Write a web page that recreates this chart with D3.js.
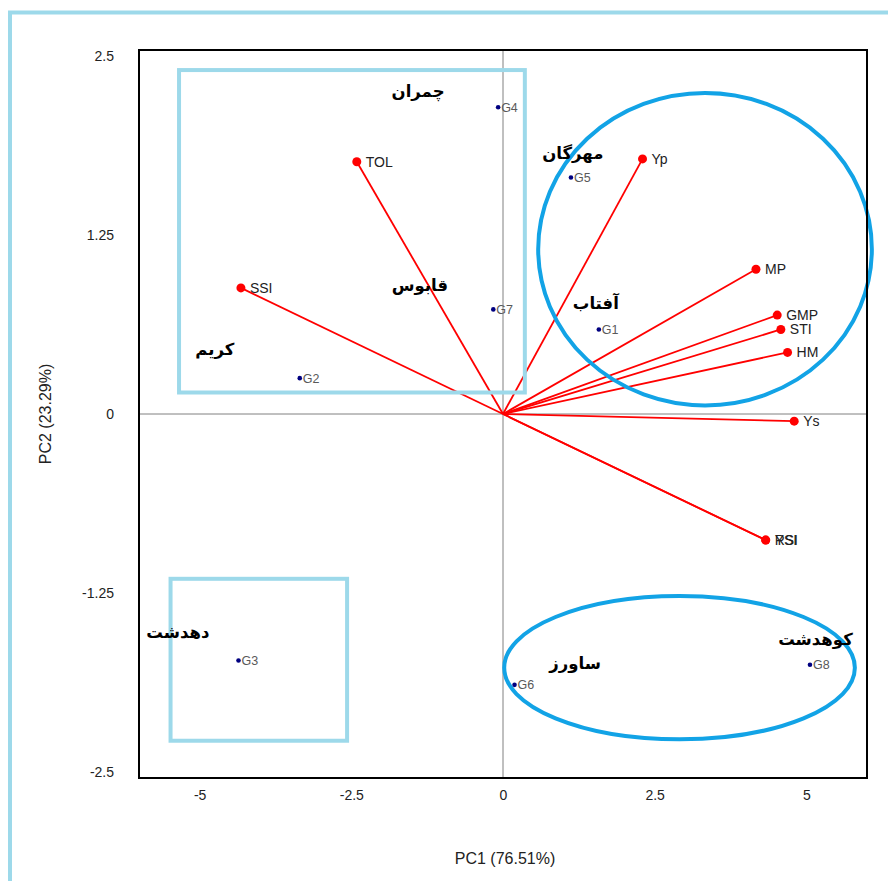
<!DOCTYPE html>
<html>
<head>
<meta charset="utf-8">
<script src="https://cdn.jsdelivr.net/npm/d3@7"></script>
<style>
  body { margin: 0; background: #fff; }
  text { font-family: "Liberation Sans", Arial, sans-serif; }
  .fa { font-family: "DejaVu Sans", sans-serif; font-weight: bold; }
</style>
</head>
<body>
<div id="chart"></div>
<script>
// genotype scores
const genotypes = ["G1", "G2", "G3", "G4", "G5", "G6", "G7", "G8"];
const genoPC1 = [1.58, -3.35, -4.36, -0.08, 1.12, 0.19, -0.16, 5.06];
const genoPC2 = [0.59, 0.25, -1.72, 2.14, 1.65, -1.89, 0.73, -1.75];

// index loadings
const indices = ["TOL", "Yp", "MP", "GMP", "STI", "HM", "Ys", "SSI", "YSI", "RSI"];
const indPC1 = [-2.41, 2.30, 4.17, 4.52, 4.58, 4.69, 4.80, -4.32, 4.33, 4.33];
const indPC2 = [1.76, 1.78, 1.01, 0.69, 0.59, 0.43, -0.05, 0.88, -0.88, -0.88];

// cultivar names written on the plot
const cultivars = ["چمران", "مهرگان", "قابوس", "آفتاب", "کریم", "دهدشت", "ساورز", "کوهدشت"];
const cultPC1 = [-1.40, 1.15, -1.37, 1.53, -4.75, -5.36, 1.19, 5.15];
const cultPC2 = [2.25, 1.82, 0.90, 0.77, 0.45, -1.52, -1.74, -1.57];

// groupings (in axis units)
const boxes = [
  { x0: -5.34, x1: 0.36, y0: 2.40, y1: 0.15 },
  { x0: -5.48, x1: -2.57, y0: -1.15, y1: -2.28 }
];
const rings = [
  { cx: 3.33, cy: 1.15, rx: 2.75, ry: 1.09 },
  { cx: 2.91, cy: -1.77, rx: 2.89, ry: 0.50 }
];

const xTicks = [-5, -2.5, 0, 2.5, 5];
const yTicks = [-2.5, -1.25, 0, 1.25, 2.5];

const width = 888;
const height = 881;
const plot = { left: 139, right: 867, top: 50, bottom: 778 };

const svg = d3.select("#chart").append("svg")
    .attr("width", width)
    .attr("height", height);

const x = d3.scaleLinear().domain([-6, 6]).range([plot.left, plot.right]);
const y = d3.scaleLinear().domain([-2.54, 2.54]).range([plot.bottom, plot.top]);

// outer frame of the figure
svg.append("path")
    .attr("d", "M10," + (height + 5) + "V12.5H" + (width + 5))
    .attr("fill", "none")
    .attr("stroke", "#9dd9ea")
    .attr("stroke-width", 4);

// zero lines
svg.append("line")
    .attr("x1", x(0)).attr("x2", x(0))
    .attr("y1", plot.top).attr("y2", plot.bottom)
    .attr("stroke", "#808080").attr("stroke-width", 1);
svg.append("line")
    .attr("x1", plot.left).attr("x2", plot.right)
    .attr("y1", y(0)).attr("y2", y(0))
    .attr("stroke", "#808080").attr("stroke-width", 1);

// tick labels (plain hyphen minus like the original)
const xAxis = d3.axisBottom(x).tickValues(xTicks).tickSize(0).tickPadding(12)
    .tickFormat(d => String(d));
svg.append("g")
    .attr("transform", "translate(0," + plot.bottom + ")")
    .call(xAxis)
    .call(g => g.select(".domain").remove())
    .selectAll("text")
    .attr("font-size", 14)
    .attr("fill", "#222")
    .style("font-family", "Liberation Sans, Arial, sans-serif");

const yAxis = d3.axisLeft(y).tickValues(yTicks).tickSize(0).tickPadding(25)
    .tickFormat(d => String(d));
svg.append("g")
    .attr("transform", "translate(" + plot.left + ",0)")
    .call(yAxis)
    .call(g => g.select(".domain").remove())
    .selectAll("text")
    .attr("font-size", 14)
    .attr("fill", "#222")
    .style("font-family", "Liberation Sans, Arial, sans-serif");

// axis titles
svg.append("text")
    .attr("x", 505).attr("y", 864)
    .attr("text-anchor", "middle")
    .attr("font-size", 16)
    .attr("fill", "#222")
    .text("PC1 (76.51%)");
svg.append("text")
    .attr("transform", "translate(51," + y(0) + ") rotate(-90)")
    .attr("text-anchor", "middle")
    .attr("font-size", 16)
    .attr("fill", "#222")
    .text("PC2 (23.29%)");

// loading vectors
svg.selectAll(".vec")
    .data(indices)
    .enter().append("line")
    .attr("class", "vec")
    .attr("x1", x(0)).attr("y1", y(0))
    .attr("x2", (d, i) => x(indPC1[i]))
    .attr("y2", (d, i) => y(indPC2[i]))
    .attr("stroke", "#ff0000")
    .attr("stroke-width", 1.8);

// group boxes and rings
svg.selectAll(".box")
    .data(boxes)
    .enter().append("rect")
    .attr("class", "box")
    .attr("x", d => x(d.x0))
    .attr("y", d => y(d.y0))
    .attr("width", d => x(d.x1) - x(d.x0))
    .attr("height", d => y(d.y1) - y(d.y0))
    .attr("fill", "none")
    .attr("stroke", "#9dd9ea")
    .attr("stroke-width", 4);

svg.selectAll(".ring")
    .data(rings)
    .enter().append("ellipse")
    .attr("class", "ring")
    .attr("cx", d => x(d.cx))
    .attr("cy", d => y(d.cy))
    .attr("rx", d => x(d.rx) - x(0))
    .attr("ry", d => y(0) - y(d.ry))
    .attr("fill", "none")
    .attr("stroke", "#12a3e6")
    .attr("stroke-width", 4);

// plot frame
svg.append("rect")
    .attr("x", plot.left).attr("y", plot.top)
    .attr("width", plot.right - plot.left)
    .attr("height", plot.bottom - plot.top)
    .attr("fill", "none")
    .attr("stroke", "#000")
    .attr("stroke-width", 2);

// index end points + labels
svg.selectAll(".ind")
    .data(indices)
    .enter().append("circle")
    .attr("class", "ind")
    .attr("cx", (d, i) => x(indPC1[i]))
    .attr("cy", (d, i) => y(indPC2[i]))
    .attr("r", 4.5)
    .attr("fill", "#ff0000");

svg.selectAll(".indlab")
    .data(indices)
    .enter().append("text")
    .attr("class", "indlab")
    .attr("x", (d, i) => x(indPC1[i]) + 9)
    .attr("y", (d, i) => y(indPC2[i]))
    .attr("dy", "0.35em")
    .attr("font-size", 14)
    .attr("fill", "#222")
    .text(d => d);

// genotype points + labels
svg.selectAll(".geno")
    .data(genotypes)
    .enter().append("circle")
    .attr("class", "geno")
    .attr("cx", (d, i) => x(genoPC1[i]))
    .attr("cy", (d, i) => y(genoPC2[i]))
    .attr("r", 2.3)
    .attr("fill", "#000080");

svg.selectAll(".genolab")
    .data(genotypes)
    .enter().append("text")
    .attr("class", "genolab")
    .attr("x", (d, i) => x(genoPC1[i]) + 3)
    .attr("y", (d, i) => y(genoPC2[i]))
    .attr("dy", "0.35em")
    .attr("font-size", 12.5)
    .attr("fill", "#595959")
    .text(d => d);

// cultivar names
svg.selectAll(".cult")
    .data(cultivars)
    .enter().append("text")
    .attr("class", "fa")
    .attr("x", (d, i) => x(cultPC1[i]))
    .attr("y", (d, i) => y(cultPC2[i]))
    .attr("dy", "0.35em")
    .attr("text-anchor", "middle")
    .attr("direction", "rtl")
    .attr("font-size", 16.5)
    .attr("fill", "#000")
    .text(d => d);
</script>
</body>
</html>
